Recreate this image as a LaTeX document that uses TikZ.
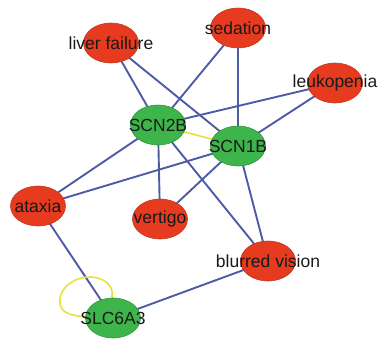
\documentclass[tikz,border=0pt]{standalone}
\usepackage{fontspec}
\setmainfont{Liberation Sans}
\usetikzlibrary{backgrounds,shapes.geometric}
\definecolor{symred}{HTML}{E63B1F}
\definecolor{symredline}{HTML}{C0381F}
\definecolor{genegreen}{HTML}{3DB54A}
\definecolor{genegreenline}{HTML}{32953D}
\definecolor{linkblue}{HTML}{4D5AA6}
\definecolor{selfyellow}{HTML}{E6E23C}
\tikzset{
  tag/.style={font=\fontsize{17.5}{17.5}\selectfont, text=black!90, inner sep=0pt},
  base/.style={ellipse, minimum width=55pt, minimum height=40pt, inner sep=0pt,
    line width=0.6pt},
  symptom/.style={base, fill=symred, draw=symredline},
  gene/.style={base, fill=genegreen, draw=genegreenline},
  link/.style={draw=linkblue, line width=1.9pt},
  ppi/.style={draw=selfyellow, line width=1.6pt},
}
\begin{document}
\begin{tikzpicture}[x=1pt, y=-1pt]
\useasboundingbox (0,0) rectangle (380,338);
% symptom nodes
\node[symptom, label={[tag]center:liver failure}] (liver) at (111,43) {};
\node[symptom, label={[tag]center:sedation}] (sed) at (238,28) {};
\node[symptom, label={[tag]center:leukopenia}] (leuk) at (335,83) {};
\node[symptom, label={[tag]center:ataxia}] (atax) at (38,206) {};
\node[symptom, label={[tag]center:vertigo}] (vert) at (160,219) {};
\node[symptom, label={[tag]center:blurred vision}] (blur) at (268,261) {};
% gene nodes
\node[gene, label={[tag]center:SCN2B}] (scn2b) at (158,125) {};
\node[gene, label={[tag]center:SCN1B}] (scn1b) at (238,146) {};
\node[gene, label={[tag]center:SLC6A3}] (slc) at (113,318) {};
\begin{pgfonlayer}{background}
  % gene--symptom associations
  \draw[link] (liver.center) -- (scn2b.center);
  \draw[link] (liver.center) -- (scn1b.center);
  \draw[link] (sed.center) -- (scn2b.center);
  \draw[link] (sed.center) -- (scn1b.center);
  \draw[link] (leuk.center) -- (scn2b.center);
  \draw[link] (leuk.center) -- (scn1b.center);
  \draw[link] (scn2b.center) -- (atax.center);
  \draw[link] (scn2b.center) -- (vert.center);
  \draw[link] (scn2b.center) -- (blur.center);
  \draw[link] (scn1b.center) -- (atax.center);
  \draw[link] (scn1b.center) -- (vert.center);
  \draw[link] (scn1b.center) -- (blur.center);
  \draw[link] (atax.center) -- (slc.center);
  \draw[link] (slc.center) -- (blur.center);
  % gene--gene interactions
  \draw[ppi] (scn2b.center) -- (scn1b.center);
  \draw[ppi] (slc.center) -- ++(-1,-22)
    .. controls +(2,-10) and (104,277) .. (90,277)
    .. controls (68,277) and (54,296) .. (62,309)
    .. controls (68,316) and (78,317) .. (slc.center);
\end{pgfonlayer}
\end{tikzpicture}
\end{document}
